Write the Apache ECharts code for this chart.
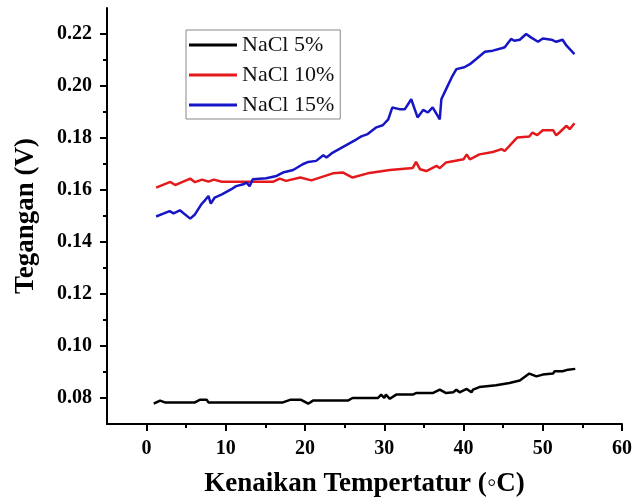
<!DOCTYPE html>
<html>
<head>
<meta charset="utf-8">
<script src="https://cdn.jsdelivr.net/npm/echarts@6/dist/echarts.min.js"></script>
<style>
  html, body { margin: 0; padding: 0; background: #fff; }
  #chart { width: 633px; height: 501px; }
</style>
</head>
<body>
<div id="chart"></div>
<script>
// NaCl 5%
const x5 = [0.9, 1.7, 2.3, 6.1, 6.7, 7.6, 7.8, 14.5, 14.6, 15.1, 17.2, 18.1, 19.5, 20.4, 21.0, 25.4, 26.0, 29.2, 29.6, 30.0, 30.2, 30.7, 31.5, 33.6, 34.0, 36.1, 37.0, 37.8, 38.7, 39.1, 39.5, 40.4, 41.0, 41.2, 42.0, 44.1, 45.8, 47.1, 48.3, 49.2, 50.0, 51.3, 51.5, 52.5, 53.2, 54.1];
const y5 = [0.0778, 0.0790, 0.0783, 0.0783, 0.0793, 0.0793, 0.0783, 0.0783, 0.0790, 0.0783, 0.0783, 0.0793, 0.0793, 0.0778, 0.0790, 0.0790, 0.0800, 0.0800, 0.0813, 0.0800, 0.0813, 0.0797, 0.0813, 0.0813, 0.0819, 0.0819, 0.0832, 0.0819, 0.0822, 0.0832, 0.0822, 0.0835, 0.0822, 0.0832, 0.0842, 0.0849, 0.0858, 0.0867, 0.0894, 0.0883, 0.0890, 0.0894, 0.0903, 0.0903, 0.0909, 0.0912];

// NaCl 10%
const x10 = [1.2, 3.0, 3.6, 5.5, 6.1, 7.0, 7.8, 8.5, 9.5, 12.0, 16.0, 16.8, 17.6, 19.4, 20.8, 23.5, 24.8, 26.0, 27.9, 30.7, 33.6, 34.0, 34.5, 35.3, 36.6, 37.0, 37.8, 40.0, 40.4, 40.8, 42.0, 43.7, 44.8, 45.2, 46.2, 46.8, 48.3, 48.7, 49.3, 50.0, 51.3, 51.7, 52.3, 53.0, 53.4, 54.0];
const y10 = [0.1609, 0.1631, 0.1619, 0.1644, 0.1630, 0.1640, 0.1632, 0.1640, 0.1632, 0.1632, 0.1632, 0.1644, 0.1635, 0.1648, 0.1637, 0.1664, 0.1667, 0.1648, 0.1664, 0.1677, 0.1685, 0.1708, 0.1680, 0.1673, 0.1693, 0.1684, 0.1706, 0.1718, 0.1737, 0.1718, 0.1737, 0.1746, 0.1757, 0.1750, 0.1783, 0.1802, 0.1806, 0.1821, 0.1811, 0.1830, 0.1830, 0.1810, 0.1827, 0.1847, 0.1834, 0.1857];

// NaCl 15%
const x15 = [1.2, 2.1, 2.9, 3.4, 4.2, 5.5, 6.1, 6.9, 7.3, 7.8, 8.1, 8.6, 9.5, 10.7, 11.3, 12.2, 12.6, 13.0, 13.4, 15.1, 16.4, 17.2, 18.5, 19.7, 20.4, 21.4, 22.3, 22.7, 23.5, 24.8, 26.5, 27.1, 27.9, 29.0, 29.8, 30.5, 31.0, 31.9, 32.6, 33.4, 34.2, 34.9, 35.5, 36.1, 37.0, 37.2, 37.8, 38.5, 39.1, 40.1, 40.8, 41.6, 42.7, 43.7, 44.8, 45.2, 46.0, 46.4, 47.1, 47.9, 48.5, 49.4, 50.0, 51.1, 51.7, 52.5, 53.0, 54.0];
const y15 = [0.1498, 0.1509, 0.1519, 0.1510, 0.1522, 0.1490, 0.1506, 0.1545, 0.1558, 0.1577, 0.1548, 0.1571, 0.1583, 0.1603, 0.1615, 0.1622, 0.1628, 0.1615, 0.1641, 0.1645, 0.1654, 0.1667, 0.1677, 0.1699, 0.1708, 0.1712, 0.1734, 0.1725, 0.1744, 0.1766, 0.1795, 0.1806, 0.1815, 0.1841, 0.1849, 0.1872, 0.1917, 0.1911, 0.1911, 0.1949, 0.1879, 0.1908, 0.1898, 0.1918, 0.1872, 0.1949, 0.1988, 0.2033, 0.2065, 0.2072, 0.2084, 0.2104, 0.2132, 0.2136, 0.2145, 0.2149, 0.2181, 0.2174, 0.2178, 0.2200, 0.2187, 0.2170, 0.2183, 0.2178, 0.2170, 0.2178, 0.2155, 0.2123];

const seriesNames = ['NaCl 5%', 'NaCl 10%', 'NaCl 15%'];
const seriesColors = ['#000000', '#e3191c', '#1616c6'];

const xMajor = [0, 10, 20, 30, 40, 50, 60];
const xMinor = [5, 15, 25, 35, 45, 55];
const yMajor = [0.08, 0.10, 0.12, 0.14, 0.16, 0.18, 0.20, 0.22];
const yMinor = [0.09, 0.11, 0.13, 0.15, 0.17, 0.19, 0.21];

const FONT = "'Liberation Serif', 'Times New Roman', serif";

function pairs(xs, ys) {
    return xs.map((x, i) => [x, ys[i]]);
}

const chart = echarts.init(document.getElementById('chart'), null, { renderer: 'canvas' });

const lineAx = { show: true, onZero: false, lineStyle: { color: '#000', width: 2 } };

const option = {
    animation: false,
    backgroundColor: '#fff',
    grid: { left: 107, right: 11, top: 8, bottom: 77, containLabel: false, outerBoundsMode: 'none' },
    legend: {
        data: seriesNames,
        orient: 'vertical',
        left: 186,
        top: 30,
        padding: [4, 6, 3, 3],
        icon: 'rect',
        itemWidth: 48,
        itemHeight: 3,
        itemGap: 8,
        borderColor: '#888',
        borderWidth: 1,
        textStyle: { fontFamily: FONT, fontSize: 22, color: '#111', lineHeight: 22 }
    },
    xAxis: [{
        type: 'value', min: -5, max: 60,
        axisLine: lineAx,
        splitLine: { show: false },
        axisTick: { show: true, customValues: xMajor, length: 7, lineStyle: { color: '#000', width: 2 } },
        axisLabel: { customValues: xMajor, margin: 15, fontFamily: FONT, fontWeight: 'bold', fontSize: 20, color: '#000' },
        name: 'Kenaikan Tempertatur (◦C)',
        nameLocation: 'middle',
        nameGap: 47,
        nameTextStyle: { fontFamily: FONT, fontWeight: 'bold', fontSize: 27, color: '#000' }
    }, {
        type: 'value', min: -5, max: 60, position: 'bottom', offset: 0,
        axisLine: { show: false, onZero: false },
        splitLine: { show: false },
        axisTick: { show: true, customValues: xMinor, length: 4, lineStyle: { color: '#000', width: 2 } },
        axisLabel: { show: false }
    }],
    yAxis: [{
        type: 'value', min: 0.07, max: 0.23, position: 'left',
        axisLine: lineAx,
        splitLine: { show: false },
        axisTick: { show: true, customValues: yMajor, length: 7, lineStyle: { color: '#000', width: 2 } },
        axisLabel: {
            customValues: yMajor, margin: 15,
            fontFamily: FONT, fontWeight: 'bold', fontSize: 20, color: '#000',
            formatter: v => v.toFixed(2)
        },
        name: 'Tegangan (V)',
        nameLocation: 'middle',
        nameGap: 67,
        nameTextStyle: { fontFamily: FONT, fontWeight: 'bold', fontSize: 27, color: '#000' }
    }, {
        type: 'value', min: 0.07, max: 0.23, position: 'left', offset: 0,
        axisLine: { show: false, onZero: false },
        splitLine: { show: false },
        axisTick: { show: true, customValues: yMinor, length: 4, lineStyle: { color: '#000', width: 2 } },
        axisLabel: { show: false }
    }],
    series: [
        pairs(x5, y5), pairs(x10, y10), pairs(x15, y15)
    ].map((d, i) => ({
        name: seriesNames[i],
        type: 'line',
        data: d,
        symbol: 'none',
        color: seriesColors[i],
        lineStyle: { width: 2.5, color: seriesColors[i] }
    }))
};

chart.setOption(option);
</script>
</body>
</html>
